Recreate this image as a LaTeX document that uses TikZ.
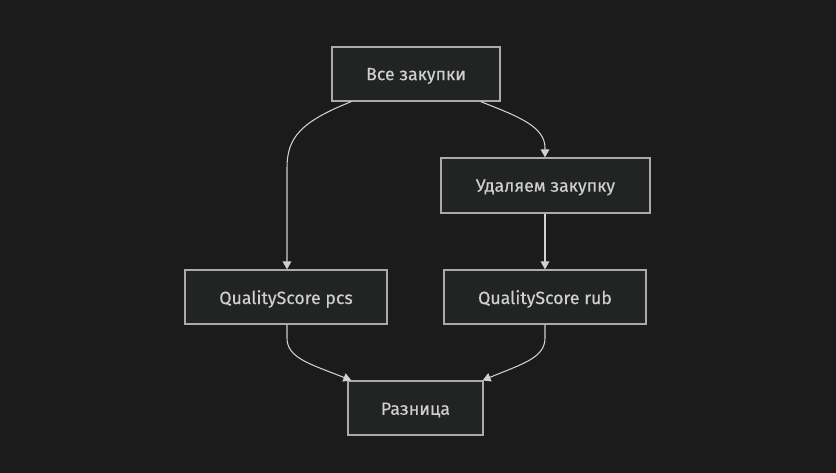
\documentclass[tikz,border=0pt]{standalone}
\usepackage{fontspec}
\setmainfont{Fira Sans}
\newfontfamily\lblfont[FakeBold=0.35]{Fira Sans}
\usetikzlibrary{arrows.meta,calc}
\definecolor{bg}{HTML}{1B1B1B}
\definecolor{boxfill}{HTML}{212423}
\definecolor{boxline}{HTML}{AAAAAA}
\definecolor{txt}{HTML}{CFCFCF}
\definecolor{edge}{HTML}{D0D0D0}
\begin{document}
\begin{tikzpicture}[x=0.75pt,y=-0.75pt,
  box/.style={draw=boxline,fill=boxfill,line width=0.9pt,inner sep=0pt,anchor=center},
  lbl/.style={text=txt,font=\lblfont\fontsize{13.3}{15}\selectfont,inner sep=0pt,yshift=-1.5pt},
  conn/.style={draw=edge,line width=0.8pt,-{Triangle[length=6pt,width=6.5pt]}}]
\fill[bg] (0,0) rectangle (836,473);
\useasboundingbox (0,0) rectangle (836,473);
\node[box,minimum width=126pt,minimum height=40.5pt,label={[lbl]center:Все закупки}] (A) at (416,74) {};
\node[box,minimum width=156.75pt,minimum height=41.25pt,label={[lbl]center:Удаляем закупку}] (B) at (545.5,185.5) {};
\node[box,minimum width=151.5pt,minimum height=40.5pt,label={[lbl]center:QualityScore pcs}] (C) at (286,297) {};
\node[box,minimum width=151.5pt,minimum height=40.5pt,label={[lbl]center:QualityScore rub}] (D) at (545,297) {};
\node[box,minimum width=101.25pt,minimum height=40.5pt,label={[lbl]center:Разница}] (E) at (415.5,408) {};
\draw[conn] ($(A.south west)+(20,0)$) .. controls (300,122) and (287,138) .. (287,168) -- (C.north -| 287,0);
\draw[conn] ($(A.south east)+(-20,0)$) .. controls (520,117) and (545,127) .. (545,148) -- (B.north -| 545,0);
\draw[conn] (B.south -| 545,0) -- (D.north -| 545,0);
\draw[conn] (C.south -| 287,0) -- (287,338) .. controls (287,358) and (310,364) .. ($(E.north west)+(4,0)$);
\draw[conn] (D.south -| 545,0) -- (545,338) .. controls (545,358) and (522,364) .. ($(E.north east)+(-1,0)$);
\end{tikzpicture}
\end{document}
